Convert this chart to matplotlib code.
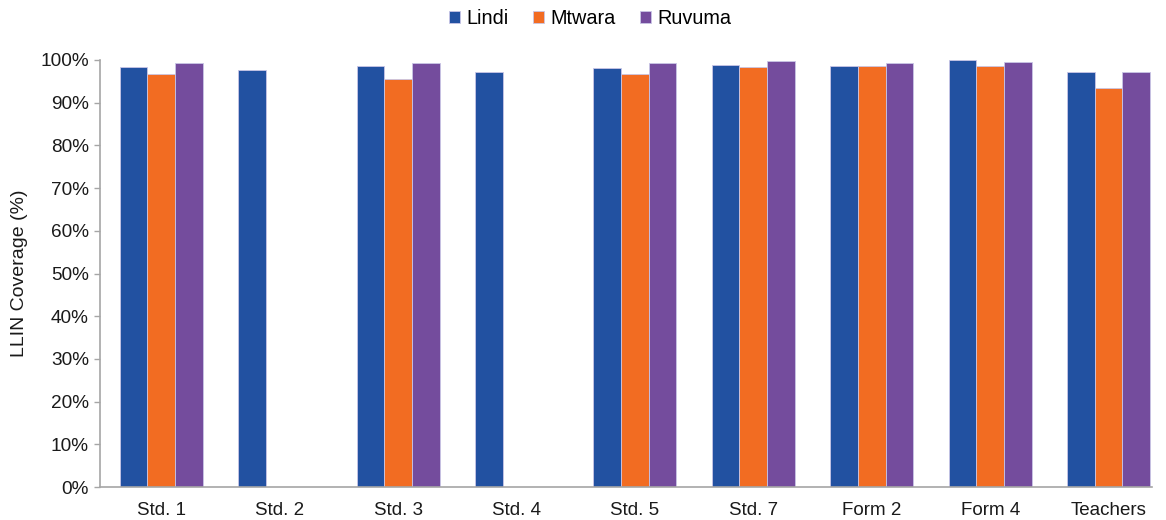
import numpy as np
import matplotlib
matplotlib.use("Agg")
import matplotlib.pyplot as plt
from matplotlib.ticker import PercentFormatter

plt.rcParams['font.family'] = ['Liberation Sans', 'DejaVu Sans']

categories = ["Std. 1", "Std. 2", "Std. 3", "Std. 4", "Std. 5", "Std. 7",
              "Form 2", "Form 4", "Teachers"]
lindi = [98.3, 97.7, 98.5, 97.2, 98.2, 98.9, 98.7, 100.0, 97.2]
mtwara = [96.8, np.nan, 95.5, np.nan, 96.7, 98.3, 98.6, 98.7, 93.5]
ruvuma = [99.2, np.nan, 99.2, np.nan, 99.4, 99.7, 99.2, 99.5, 97.1]

series = [("Lindi", lindi, "#2251A1"),
          ("Mtwara", mtwara, "#F26C22"),
          ("Ruvuma", ruvuma, "#744C9D")]

fig = plt.figure(figsize=(11.66, 5.2), dpi=100)
ax = fig.add_axes([100 / 1166, 1 - 487 / 520, 1052 / 1166, 427 / 520])

x = np.arange(len(categories))
width = 0.234
for i, (name, vals, color) in enumerate(series):
    ax.bar(x + (i - 1) * width, np.array(vals) / 100.0, width,
           color=color, label=name, edgecolor="#C9C6E6", linewidth=0.6)

ax.set_xlim(-0.518, 8.367)
ax.set_ylim(0, 1.0)
ax.set_yticks(np.arange(0, 1.01, 0.1))
ax.yaxis.set_major_formatter(PercentFormatter(1.0, decimals=0))
ax.set_xticks(x)
ax.set_xticklabels(categories)

for side in ("top", "right"):
    ax.spines[side].set_visible(False)
for side in ("left", "bottom"):
    ax.spines[side].set_color("#A6A6A6")
    ax.spines[side].set_linewidth(1.2)

ax.tick_params(axis="y", length=4, width=1.0, color="#A6A6A6",
               labelsize=13.7, pad=4, labelcolor="#1a1a1a")
ax.tick_params(axis="x", length=0, labelsize=13.5, pad=11, labelcolor="#1a1a1a")
ax.set_ylabel("LLIN Coverage (%)", fontsize=14, color="#1a1a1a", labelpad=9)

fig.legend(loc="center", bbox_to_anchor=(590 / 1166, 1 - 19 / 520), ncol=3,
           frameon=False, fontsize=14.3, handlelength=0.55, handleheight=0.55,
           handletextpad=0.3, columnspacing=1.25)

fig.savefig("out.png", dpi=100)
